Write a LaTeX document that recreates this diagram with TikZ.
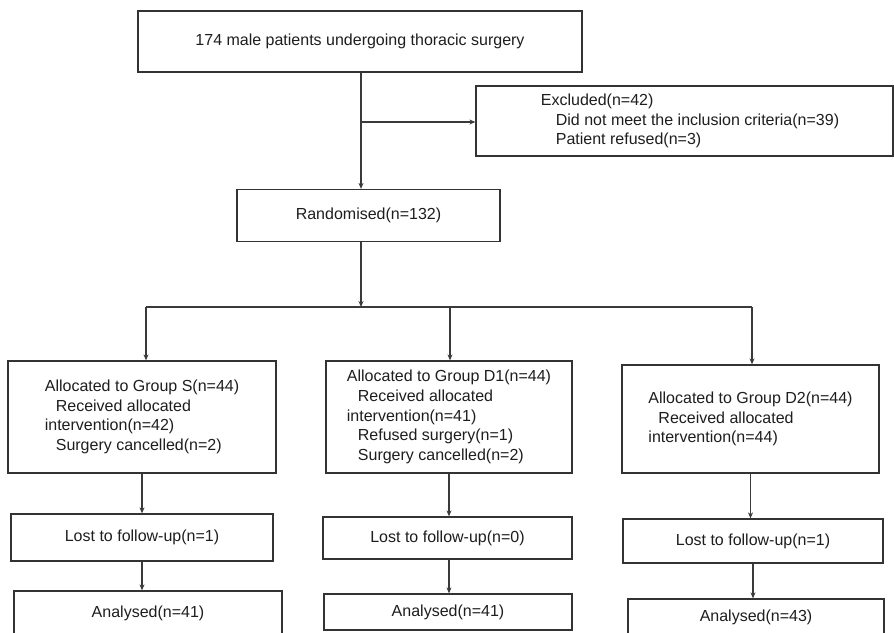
\documentclass[tikz,border=0pt]{standalone}
\usepackage{fontspec}
\setmainfont{Liberation Sans}
\usetikzlibrary{arrows.meta}
\definecolor{boxc}{HTML}{333333}
\definecolor{linec}{HTML}{3A3A3A}
\definecolor{txt}{HTML}{1E1E1E}
\begin{document}
\begin{tikzpicture}[x=1pt,y=-1pt,
  box/.style={draw=boxc, line width=1.3pt, rectangle, inner sep=0pt, align=left,
              font=\fontsize{16}{19.6}\selectfont, text=txt},
  conn/.style={draw=linec, line width=1.1pt},
  arr/.style={conn, -{Stealth[length=6pt,width=5pt]}}]
\useasboundingbox (0,0) rectangle (894,632);
\clip (0,0) rectangle (894,632);
\fill[white] (0,0) rectangle (894,632);

% top part
\node[box, minimum width=444pt, minimum height=61pt] (top) at (360,41.5)
  {174 male patients undergoing thoracic surgery};
\node[box, minimum width=417pt, minimum height=70pt] (excl) at (684.5,121)
  {\hspace*{11pt}Excluded(n=42)\\\hspace*{26pt}Did not meet the inclusion criteria(n=39)\\\hspace*{26pt}Patient refused(n=3)};
\node[box, minimum width=263pt, minimum height=52pt] (rand) at (368.5,215.5)
  {Randomised(n=132)};

% allocation boxes
\node[box, minimum width=268pt, minimum height=112pt] (allocS) at (142,417)
  {Allocated to Group S(n=44)\\\hspace*{11pt}Received allocated\\intervention(n=42)\\\hspace*{11pt}Surgery cancelled(n=2)};
\node[box, minimum width=246pt, minimum height=112pt] (allocD1) at (449,417)
  {Allocated to Group D1(n=44)\\\hspace*{11pt}Received allocated\\intervention(n=41)\\\hspace*{11pt}Refused surgery(n=1)\\\hspace*{11pt}Surgery cancelled(n=2)};
\node[box, minimum width=257pt, minimum height=108pt] (allocD2) at (750.5,419)
  {Allocated to Group D2(n=44)\\\hspace*{10pt}Received allocated\\intervention(n=44)};

% follow-up boxes
\node[box, minimum width=262pt, minimum height=47pt] (lostS) at (142,537.5) {Lost to follow-up(n=1)};
\node[box, minimum width=249pt, minimum height=42pt] (lostD1) at (447.5,538) {Lost to follow-up(n=0)};
\node[box, minimum width=260pt, minimum height=44pt] (lostD2) at (753,541) {Lost to follow-up(n=1)};

% analysis boxes
\node[box, minimum width=268pt, minimum height=44pt] (analS) at (148,613) {Analysed(n=41)};
\node[box, minimum width=248pt, minimum height=36pt] (analD1) at (448,612) {Analysed(n=41)};
\node[box, minimum width=256pt, minimum height=36pt] (analD2) at (756,617) {Analysed(n=43)};

% junction points
\coordinate (j1) at (361,122);
\coordinate (j2) at (361,307);
\coordinate (bl) at (146,307);
\coordinate (bm) at (450,307);
\coordinate (br) at (752,307);

% connectors
\draw[arr] (j1 |- top.south) -- (j1 |- rand.north);
\draw[arr] (j1) -- (j1 -| excl.west);
\draw[arr] (j2 |- rand.south) -- (j2);
\draw[conn] (bl) -- (br);
\draw[arr] (bl) -- (bl |- allocS.north);
\draw[arr] (bm) -- (bm |- allocD1.north);
\draw[arr] (br) -- (br |- allocD2.north);

\draw[arr] (allocS.south) -- (allocS.south |- lostS.north);
\draw[arr] (lostS.south) -- (lostS.south |- analS.north);
\draw[arr] (allocD1.south) -- (allocD1.south |- lostD1.north);
\draw[arr] (allocD1.south |- lostD1.south) -- (allocD1.south |- analD1.north);
\draw[arr] (allocD2.south) -- (allocD2.south |- lostD2.north);
\draw[arr] (lostD2.south) -- (lostD2.south |- analD2.north);
\end{tikzpicture}
\end{document}
